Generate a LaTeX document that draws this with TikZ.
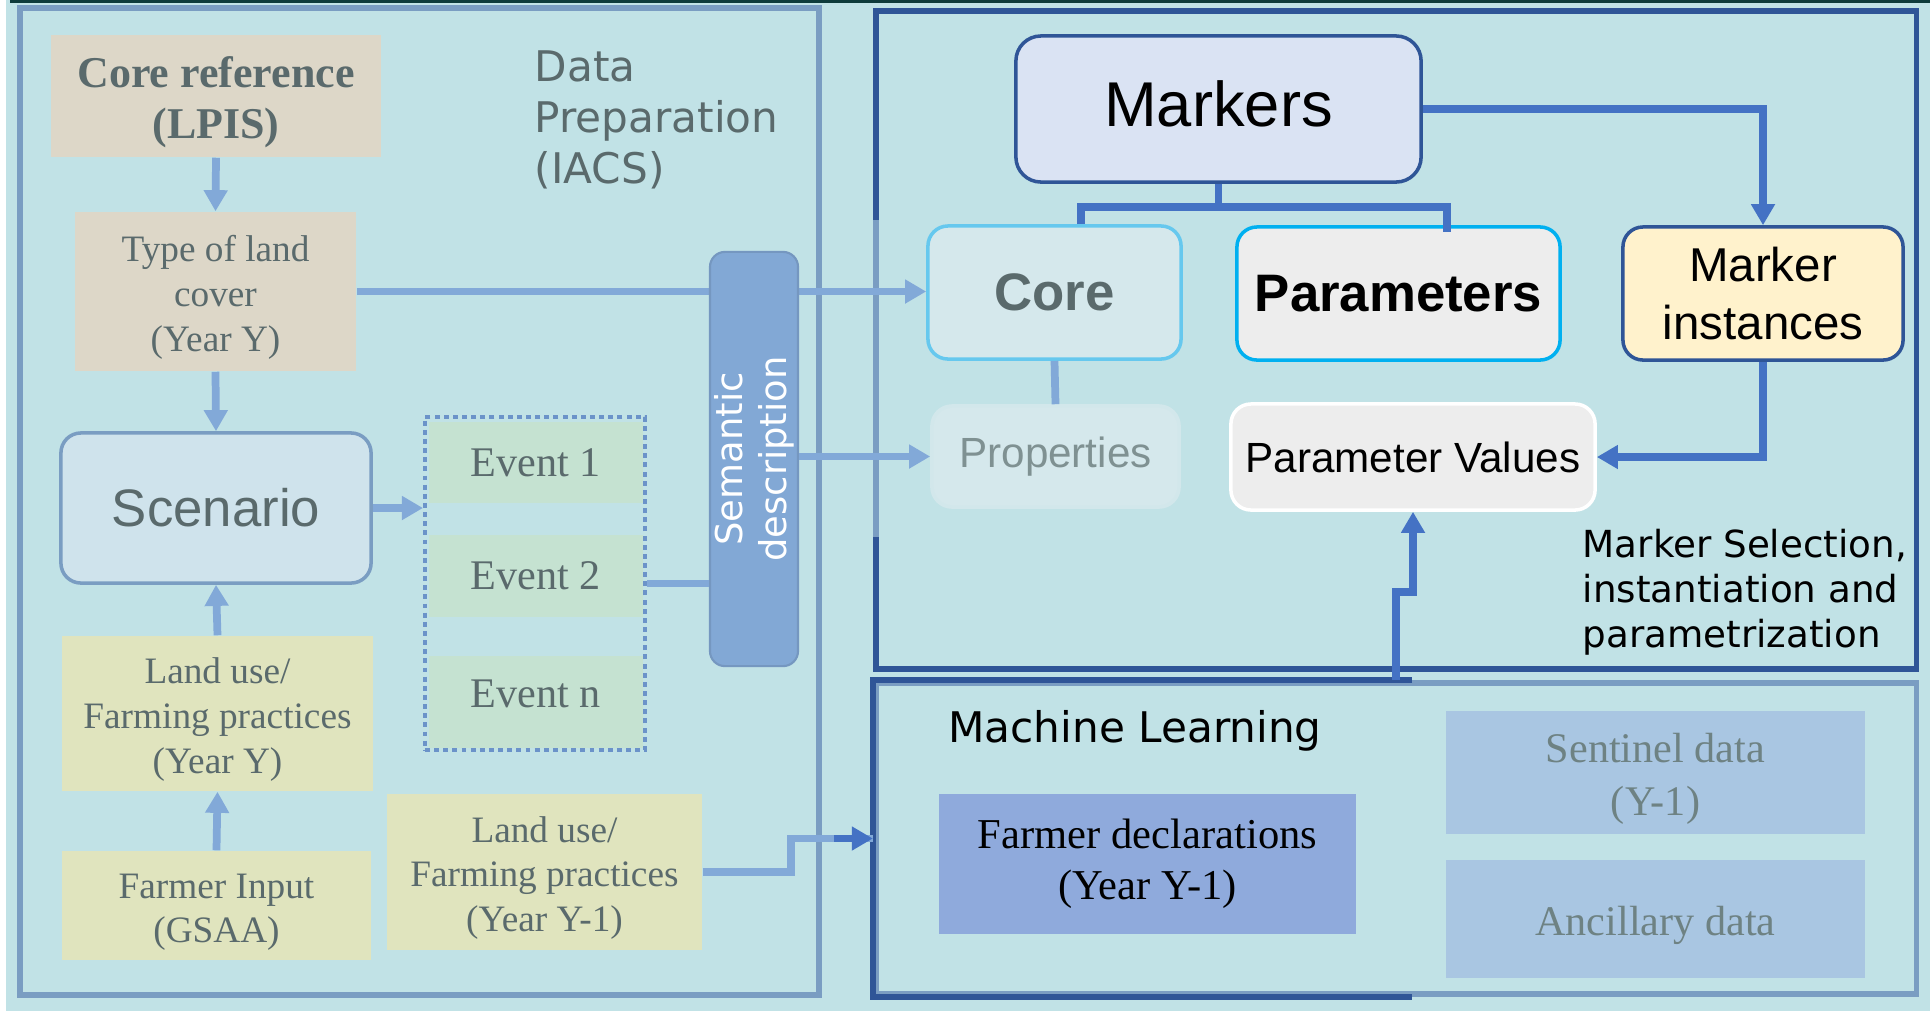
\documentclass[tikz,border=0pt]{standalone}
\usepackage{fontspec}
\setmainfont{Liberation Serif}
\setsansfont{Liberation Sans}
\newfontfamily\dejavu{DejaVu Sans}
\usetikzlibrary{arrows.meta}

\definecolor{sheet}{HTML}{C1E2E6}
\definecolor{topline}{HTML}{0E3B3B}
\definecolor{paneblue}{HTML}{7A9DC2}
\definecolor{navy}{HTML}{2F5597}
\definecolor{fadegrey}{HTML}{5A6A6C}
\definecolor{propgrey}{HTML}{7F9192}
\definecolor{satgrey}{HTML}{6E8283}
\definecolor{sand}{HTML}{DDD7C8}
\definecolor{mint}{HTML}{C5E2D1}
\definecolor{straw}{HTML}{E0E4BE}
\definecolor{scenfill}{HTML}{CFE3EC}
\definecolor{semfill}{HTML}{82A8D5}
\definecolor{dotline}{HTML}{6B93C9}
\definecolor{lightlink}{HTML}{82A9D8}
\definecolor{darklink}{HTML}{4472C4}
\definecolor{markfill}{HTML}{DAE3F3}
\definecolor{corefill}{HTML}{D5E8EC}
\definecolor{coreline}{HTML}{66C8EE}
\definecolor{propline}{HTML}{D2E7EB}
\definecolor{paramline}{HTML}{00B0F0}
\definecolor{lightgrey}{HTML}{EDEDED}
\definecolor{cream}{HTML}{FFF2CC}
\definecolor{declfill}{HTML}{8FAADC}
\definecolor{satfill}{HTML}{A9C6E2}

% strut that pushes a text block a little down in its box
\newcommand{\topstrut}{\rule{0pt}{1em}}
\newcommand{\lifted}[2]{\raisebox{#1}[\height][\depth]{#2}}

\tikzset{
  pane/.style={draw=#1, line width=1.6pt, inner sep=0pt},
  flat/.style={fill=#1, inner sep=0pt, align=center, text=fadegrey},
  rbox/.style={rounded corners=0.2cm, line width=1pt, inner sep=0pt, align=center},
  lconn/.style={draw=lightlink, line width=2.2pt},
  rconn/.style={draw=darklink, line width=2.2pt},
  pointy/.style={-{Triangle[length=6pt,width=6.5pt]}},
}

\begin{document}
\begin{tikzpicture}[x=0.01cm, y=-0.01cm]
  % Sheet
  \useasboundingbox (0,0) rectangle (1930,1011);
  \fill[sheet] (6,0) rectangle (1930,1011);
  \fill[topline] (10,0) rectangle (1930,3);

  % Panels
  \node[pane=paneblue, line width=1.7pt, minimum width=7.99cm, minimum height=9.87cm] (prep) at (419.5,501.5) {};
  \node[pane=navy, minimum width=10.4cm, minimum height=6.58cm] (select) at (1396,340) {};
  \node[pane=paneblue, minimum width=10.4cm, minimum height=3.11cm] (ml) at (1396,838.5) {};
  \draw[navy, line width=1.6pt] ([xshift=0.16cm]ml.north) -| (ml.south west) -- ([xshift=0.16cm]ml.south);
  \draw[paneblue, line width=1.6pt] (876,220) -- (876,537);

  % Data preparation
  \node[flat=sand, minimum width=3.3cm, minimum height=1.22cm, font=\bfseries\fontsize{12.5}{14.6}\selectfont] (coreref) at (216,96) {\topstrut Core reference\\(LPIS)};
  \node[flat=sand, minimum width=2.81cm, minimum height=1.59cm, font=\fontsize{10.6}{12.8}\selectfont] (cover) at (215.5,291.5) {\topstrut Type of land\\cover\\(Year Y)};
  \node[rbox, draw=paneblue, fill=scenfill, text=fadegrey, minimum width=3.1cm, minimum height=1.5cm, font=\sffamily\fontsize{15}{18}\selectfont] (scenario) at (216,508) {Scenario};
  \node[flat=straw, minimum width=3.11cm, minimum height=1.55cm, font=\fontsize{10.6}{12.8}\selectfont] (useY) at (217.5,713.5) {\topstrut Land use/\\Farming practices\\(Year Y)};
  \node[flat=straw, minimum width=3.09cm, minimum height=1.09cm, font=\fontsize{10.6}{12.6}\selectfont] (gsaa) at (216.5,905.5) {\topstrut Farmer Input\\(GSAA)};
  \node[flat=straw, minimum width=3.15cm, minimum height=1.56cm, font=\fontsize{10.6}{12.6}\selectfont] (usePrev) at (544.5,872) {\topstrut Land use/\\Farming practices\\(Year Y-1)};
  \node[anchor=west, inner sep=0pt, align=left, text=fadegrey, font=\dejavu\fontsize{12}{14.6}\selectfont] (preptitle) at (534,120) {Data\\Preparation\\(IACS)};

  % Events
  \node[flat=mint, minimum width=2.14cm, minimum height=0.81cm, font=\fontsize{12}{14}\selectfont] (ev1) at (536,462.5) {Event 1};
  \node[flat=mint, minimum width=2.14cm, minimum height=0.82cm, font=\fontsize{12}{14}\selectfont] (ev2) at (536,576) {Event 2};
  \node[flat=mint, minimum width=2.14cm, minimum height=0.92cm, font=\fontsize{12}{14}\selectfont] (evn) at (536,702) {\lifted{2.4pt}{Event n}};
  \node[draw=dotline, line width=1.1pt, dash pattern=on 1.4pt off 1.2pt, minimum width=2.2cm, minimum height=3.33cm] (events) at (535,583.5) {};

  % Marker side
  \node[rbox, rounded corners=0.25cm, draw=navy, fill=markfill, minimum width=4.05cm, minimum height=1.46cm, font=\sffamily\fontsize{18}{21}\selectfont] (markers) at (1218.5,109) {\lifted{1.4pt}{Markers}};
  \node[rbox, draw=coreline, fill=corefill, text=fadegrey, minimum width=2.53cm, minimum height=1.33cm, font=\sffamily\bfseries\fontsize{15}{18}\selectfont] (core) at (1054.5,292.5) {Core};
  \node[rbox, draw=paramline, fill=lightgrey, minimum width=3.23cm, minimum height=1.33cm, font=\sffamily\bfseries\fontsize{15}{18}\selectfont] (params) at (1398.5,293.5) {Parameters};
  \node[rbox, draw=navy, fill=cream, minimum width=2.8cm, minimum height=1.33cm, font=\sffamily\fontsize{13.5}{16.5}\selectfont] (instances) at (1763,293.5) {Marker\\instances};
  \node[rbox, draw=propline, fill=corefill, text=propgrey, minimum width=2.47cm, minimum height=1.01cm, font=\sffamily\fontsize{12}{14}\selectfont] (props) at (1055.5,456.5) {Properties};
  \node[rbox, draw=white, fill=lightgrey, minimum width=3.64cm, minimum height=1.06cm, font=\sffamily\fontsize{12}{14}\selectfont] (values) at (1413,457) {Parameter Values};
  \node[anchor=west, inner sep=0pt, align=left, font=\dejavu\fontsize{10.6}{12.8}\selectfont] (seltitle) at (1582,592) {Marker Selection,\\instantiation and\\parametrization};

  % Machine learning
  \node[inner sep=0pt, font=\dejavu\fontsize{12}{14}\selectfont] (mltitle) at (1135,731) {Machine Learning};
  \node[flat=declfill, text=black, minimum width=4.17cm, minimum height=1.4cm, font=\fontsize{12.1}{14.5}\selectfont] (decl) at (1147.5,864) {Farmer declarations\\(Year Y-1)};
  \node[flat=satfill, text=satgrey, minimum width=4.19cm, minimum height=1.23cm, font=\fontsize{12}{15}\selectfont] (sentinel) at (1655.5,772.5) {\topstrut Sentinel data\\(Y-1)};
  \node[flat=satfill, text=satgrey, minimum width=4.19cm, minimum height=1.18cm, font=\fontsize{12}{15}\selectfont] (ancillary) at (1655.5,919) {\topstrut Ancillary data};

  % Connectors, data preparation
  \draw[lconn, pointy] (coreref.south) -- (cover.north);
  \draw[lconn, pointy] (cover.south) -- (scenario.north);
  \draw[lconn, pointy] (useY.north) -- (scenario.south);
  \draw[lconn, pointy] (gsaa.north) -- (useY.south);
  \draw[lconn, pointy] (scenario.east) -- (scenario.east -| events.west);
  \draw[lconn, pointy] (cover.east) -- (cover.east -| core.west);
  \draw[lconn] (usePrev.east) -- ++(88,0) |- (ml.west);
  \draw[rconn, pointy] ([xshift=-0.39cm]ml.west) -- (ml.west);

  % Semantic description on top of the line
  \node[rbox, rounded corners=0.15cm, draw=semfill!90!black, line width=0.6pt, fill=semfill, text=white, rotate=90, minimum width=4.14cm, minimum height=0.88cm, font=\dejavu\fontsize{10.5}{12.5}\selectfont] (semantic) at (754,459) {Semantic\\description};
  \draw[lconn] (events.east) -- (events.east -| semantic.north);
  \draw[lconn, pointy] (semantic.south |- props.west) -- (props.west);

  % Connectors, markers
  \draw[rconn] (markers.south) -- ++(0,23) coordinate (split);
  \draw[rconn] ([xshift=0.265cm]core.north) |- (split) -| ([xshift=0.485cm,yshift=-0.07cm]params.north);
  \draw[rconn, pointy] (markers.east) -| (instances.north);
  \draw[rconn, pointy] (instances.south) |- (values.east);
  \draw[lconn] (core.south) -- (props.north);
  \draw[rconn, pointy] (ml.north) -- ++(0,-88) -| (values.south);
\end{tikzpicture}
\end{document}
